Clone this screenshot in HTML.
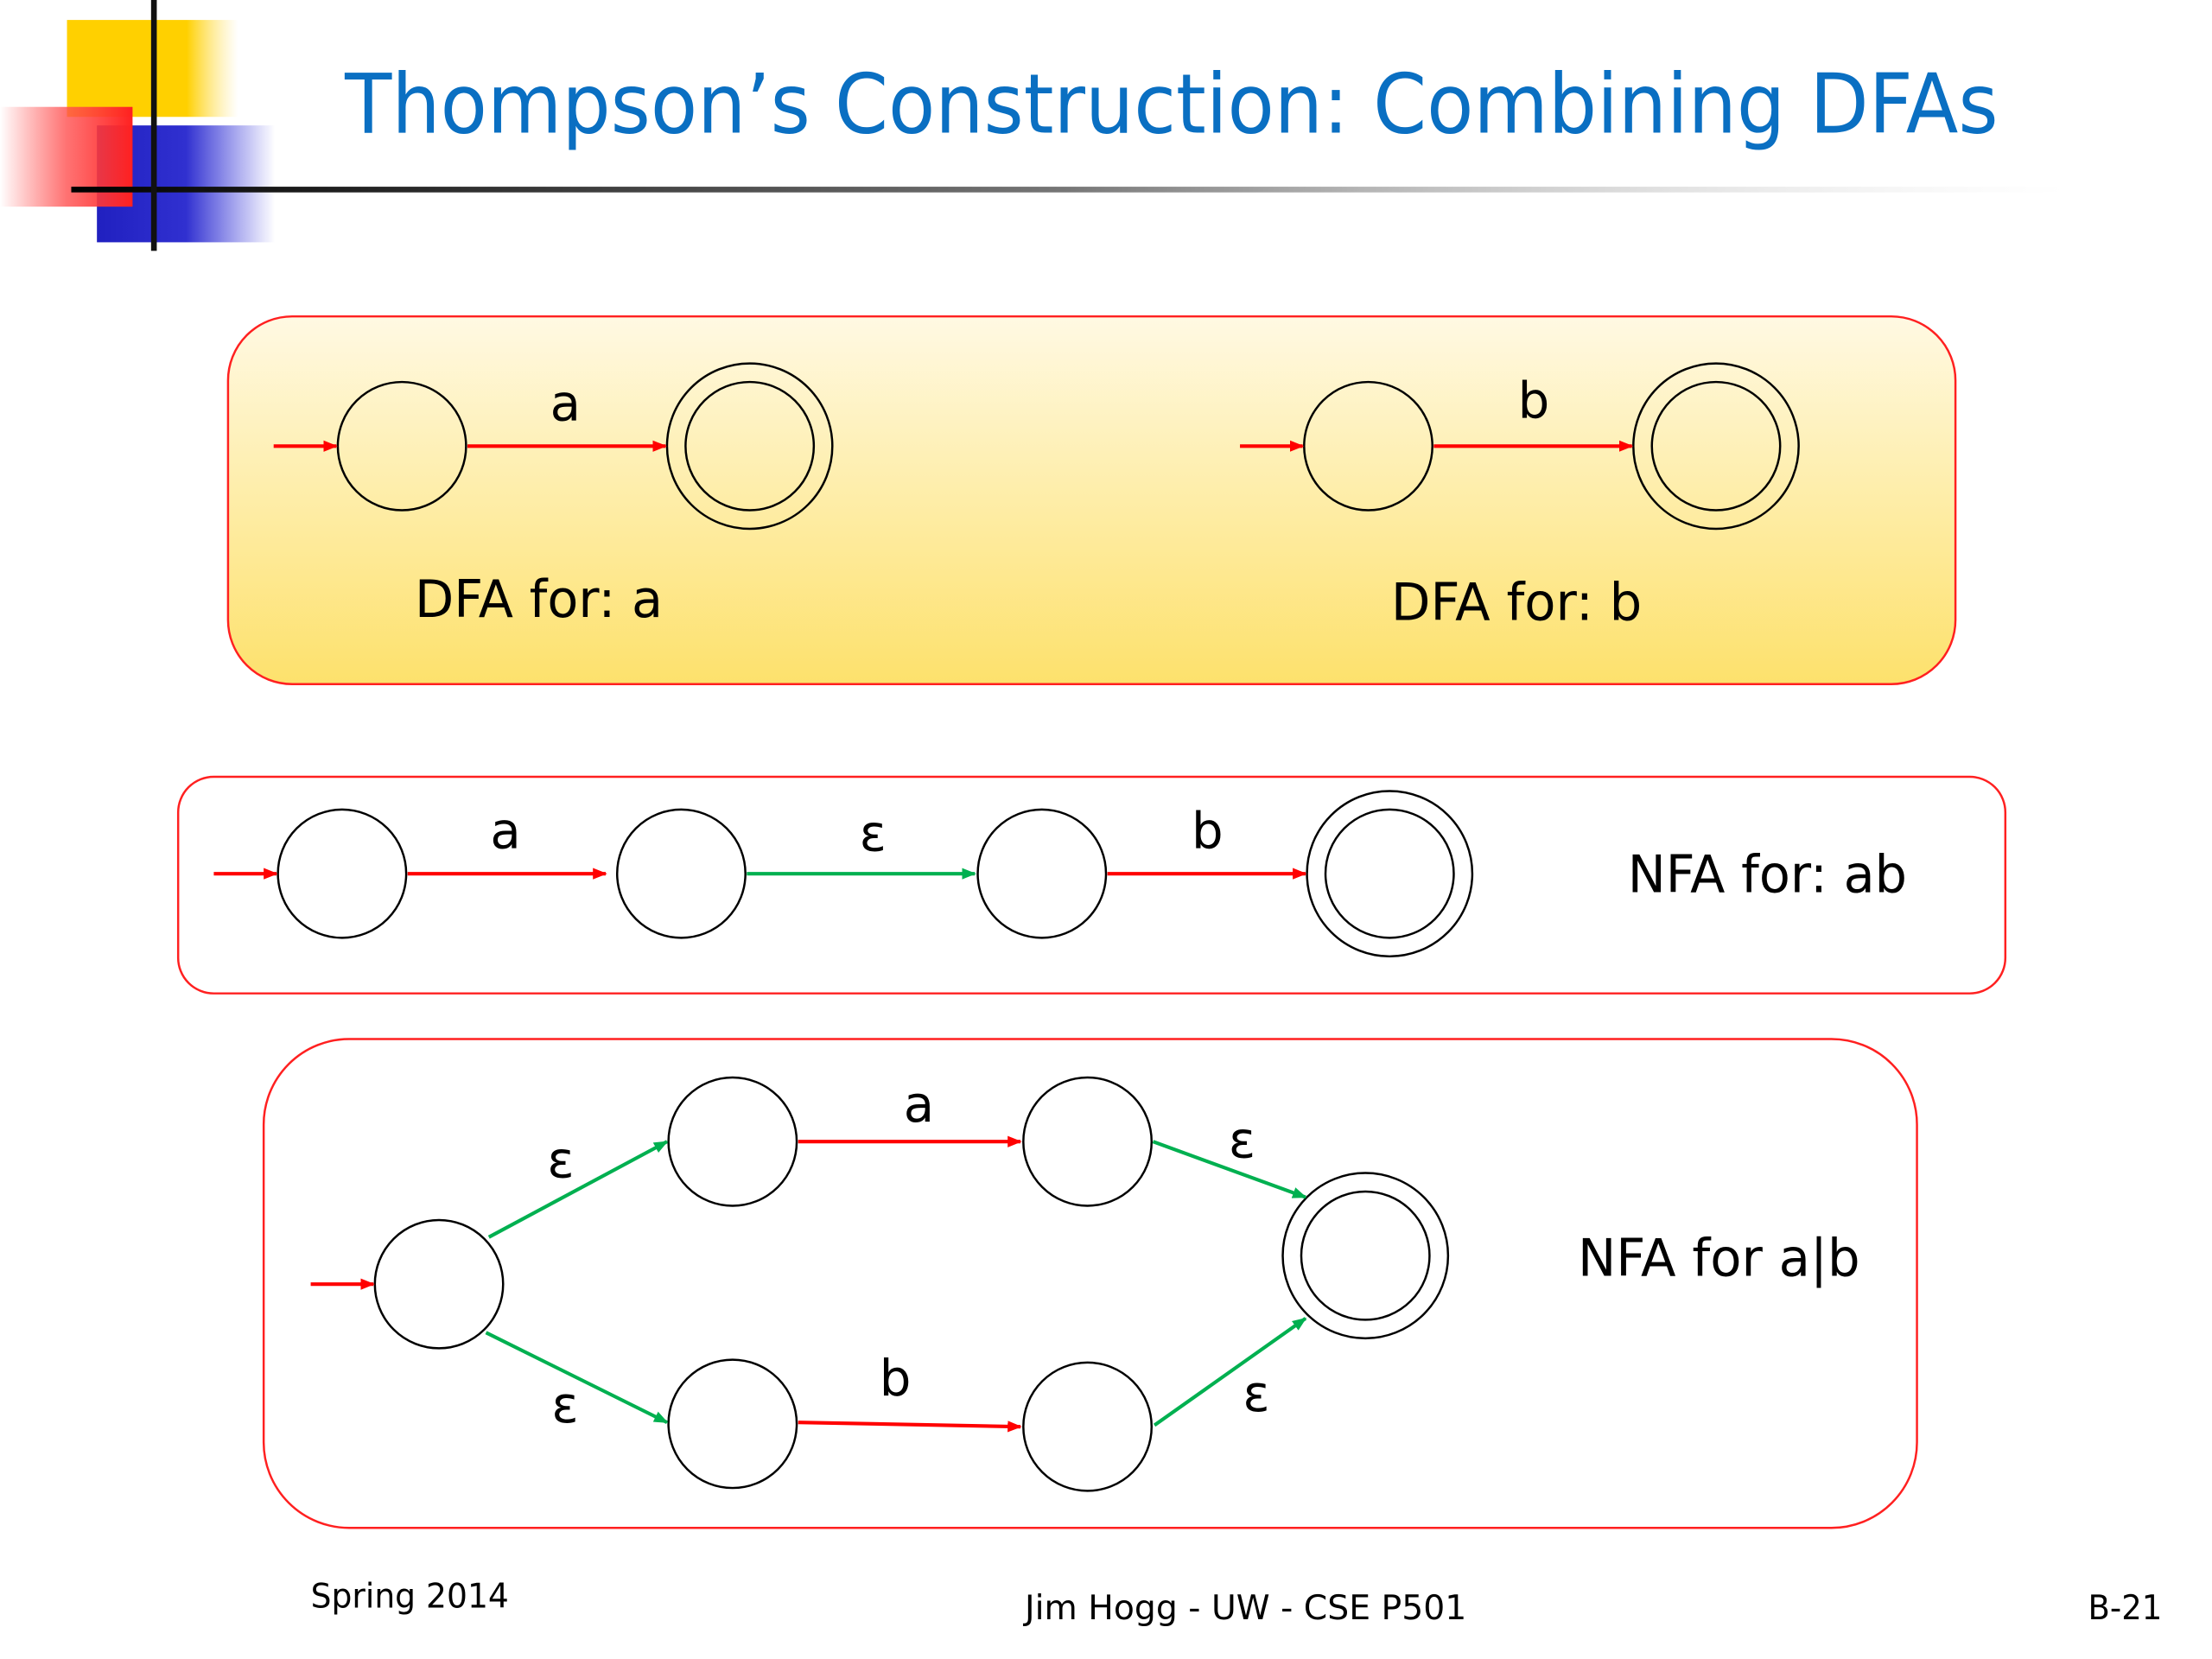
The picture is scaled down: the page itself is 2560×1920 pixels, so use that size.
<!DOCTYPE html>
<html><head><meta charset="utf-8"><style>
html,body{margin:0;padding:0;background:#fff;}
svg{display:block;}
text{font-family:"DejaVu Sans","Liberation Sans",sans-serif;fill:#000;}
</style></head><body>
<svg width="2560" height="1920" viewBox="0 0 1552 1164" xmlns="http://www.w3.org/2000/svg">
<defs>
<linearGradient id="yg" x1="0" y1="0" x2="0" y2="1"><stop offset="0" stop-color="#fff9e3"/><stop offset="1" stop-color="#fde16c"/></linearGradient>
<linearGradient id="rg" x1="0" y1="0" x2="1" y2="0"><stop offset="0" stop-color="#ff4040" stop-opacity="0"/><stop offset="0.5" stop-color="#ff5050" stop-opacity="0.8"/><stop offset="1" stop-color="#ff2020"/></linearGradient>
<linearGradient id="bg" x1="0" y1="0" x2="1" y2="0"><stop offset="0" stop-color="#2020c0"/><stop offset="0.5" stop-color="#3030d0"/><stop offset="1" stop-color="#4040e0" stop-opacity="0"/></linearGradient>
<linearGradient id="yl" x1="0" y1="0" x2="1" y2="0"><stop offset="0" stop-color="#ffd000"/><stop offset="0.7" stop-color="#ffd000"/><stop offset="1" stop-color="#ffe060" stop-opacity="0"/></linearGradient>
<linearGradient id="lg" x1="0" y1="0" x2="1" y2="0"><stop offset="0" stop-color="#000"/><stop offset="0.5" stop-color="#777"/><stop offset="1" stop-color="#ddd" stop-opacity="0"/></linearGradient>
<marker id="ar" markerWidth="10" markerHeight="10" refX="9" refY="5" orient="auto" markerUnits="userSpaceOnUse"><path d="M0,1 L10,5 L0,9 z" fill="#ff0000"/></marker>
<marker id="ag" markerWidth="10" markerHeight="10" refX="9" refY="5" orient="auto" markerUnits="userSpaceOnUse"><path d="M0,1 L10,5 L0,9 z" fill="#00b050"/></marker>
</defs>
<rect x="47" y="14" width="120" height="68" fill="url(#yl)"/>
<rect x="68" y="88" width="125" height="82" fill="url(#bg)"/>
<rect x="0" y="75" width="93" height="70" fill="url(#rg)"/>
<rect x="50" y="131" width="1400" height="4" fill="url(#lg)"/>
<rect x="106" y="0" width="4" height="176" fill="#111"/>
<text x="242" y="93" font-size="58" style="fill:#0a6fc2" textLength="1160" lengthAdjust="spacingAndGlyphs">Thompson’s Construction: Combining DFAs</text>

<rect x="160" y="222" width="1212" height="258" rx="45" fill="url(#yg)" stroke="#ff2020" stroke-width="1.5"/>
<g fill="none" stroke="#000" stroke-width="1.5">
<circle cx="282" cy="313" r="45"/><circle cx="526" cy="313" r="58"/><circle cx="526" cy="313" r="45"/>
<circle cx="960" cy="313" r="45"/><circle cx="1204" cy="313" r="58"/><circle cx="1204" cy="313" r="45"/>
</g>
<g stroke="#ff0000" stroke-width="2.5" fill="none">
<line x1="192" y1="313" x2="236" y2="313" marker-end="url(#ar)"/>
<line x1="328" y1="313" x2="467" y2="313" marker-end="url(#ar)"/>
<line x1="870" y1="313" x2="914" y2="313" marker-end="url(#ar)"/>
<line x1="1006" y1="313" x2="1145" y2="313" marker-end="url(#ar)"/>
</g>
<text x="386" y="295" font-size="35">a</text>
<text x="1065" y="293" font-size="35">b</text>
<text x="291" y="433" font-size="36" textLength="174" lengthAdjust="spacingAndGlyphs">DFA for: a</text>
<text x="976" y="435" font-size="36" textLength="176" lengthAdjust="spacingAndGlyphs">DFA for: b</text>

<rect x="125" y="545" width="1282" height="152" rx="25" fill="#fff" stroke="#ff2020" stroke-width="1.5"/>
<g fill="none" stroke="#000" stroke-width="1.5">
<circle cx="240" cy="613" r="45"/><circle cx="478" cy="613" r="45"/><circle cx="731" cy="613" r="45"/>
<circle cx="975" cy="613" r="58"/><circle cx="975" cy="613" r="45"/>
</g>
<g stroke-width="2.5" fill="none">
<line x1="150" y1="613" x2="194" y2="613" stroke="#ff0000" marker-end="url(#ar)"/>
<line x1="286" y1="613" x2="425" y2="613" stroke="#ff0000" marker-end="url(#ar)"/>
<line x1="524" y1="613" x2="684" y2="613" stroke="#00b050" marker-end="url(#ag)"/>
<line x1="777" y1="613" x2="916" y2="613" stroke="#ff0000" marker-end="url(#ar)"/>
</g>
<text x="344" y="595" font-size="35">a</text>
<text x="603" y="597" font-size="35">ε</text>
<text x="836" y="595" font-size="35">b</text>
<text x="1142" y="626" font-size="36" textLength="196" lengthAdjust="spacingAndGlyphs">NFA for: ab</text>

<rect x="185" y="729" width="1160" height="343" rx="60" fill="#fff" stroke="#ff2020" stroke-width="1.5"/>
<g fill="none" stroke="#000" stroke-width="1.5">
<circle cx="308" cy="901" r="45"/><circle cx="514" cy="801" r="45"/><circle cx="763" cy="801" r="45"/>
<circle cx="514" cy="999" r="45"/><circle cx="763" cy="1001" r="45"/>
<circle cx="958" cy="881" r="58"/><circle cx="958" cy="881" r="45"/>
</g>
<g stroke-width="2.5" fill="none">
<line x1="218" y1="901" x2="262" y2="901" stroke="#ff0000" marker-end="url(#ar)"/>
<line x1="343" y1="868" x2="468" y2="801" stroke="#00b050" marker-end="url(#ag)"/>
<line x1="560" y1="801" x2="716" y2="801" stroke="#ff0000" marker-end="url(#ar)"/>
<line x1="809" y1="801" x2="916" y2="840" stroke="#00b050" marker-end="url(#ag)"/>
<line x1="341" y1="935" x2="468" y2="998" stroke="#00b050" marker-end="url(#ag)"/>
<line x1="560" y1="998" x2="716" y2="1001" stroke="#ff0000" marker-end="url(#ar)"/>
<line x1="810" y1="1000" x2="916" y2="925" stroke="#00b050" marker-end="url(#ag)"/>
</g>
<text x="384" y="826" font-size="35">ε</text>
<text x="634" y="787" font-size="35">a</text>
<text x="862" y="812" font-size="35">ε</text>
<text x="387" y="998" font-size="35">ε</text>
<text x="617" y="979" font-size="35">b</text>
<text x="872" y="990" font-size="35">ε</text>
<text x="1107" y="895" font-size="36" textLength="198" lengthAdjust="spacingAndGlyphs">NFA for a|b</text>

<text x="218" y="1128" font-size="24" textLength="139" lengthAdjust="spacingAndGlyphs">Spring 2014</text>
<text x="719" y="1136" font-size="24" textLength="310" lengthAdjust="spacingAndGlyphs">Jim Hogg - UW - CSE P501</text>
<text x="1465" y="1136" font-size="24" textLength="52" lengthAdjust="spacingAndGlyphs">B-21</text>
</svg>
</body></html>
